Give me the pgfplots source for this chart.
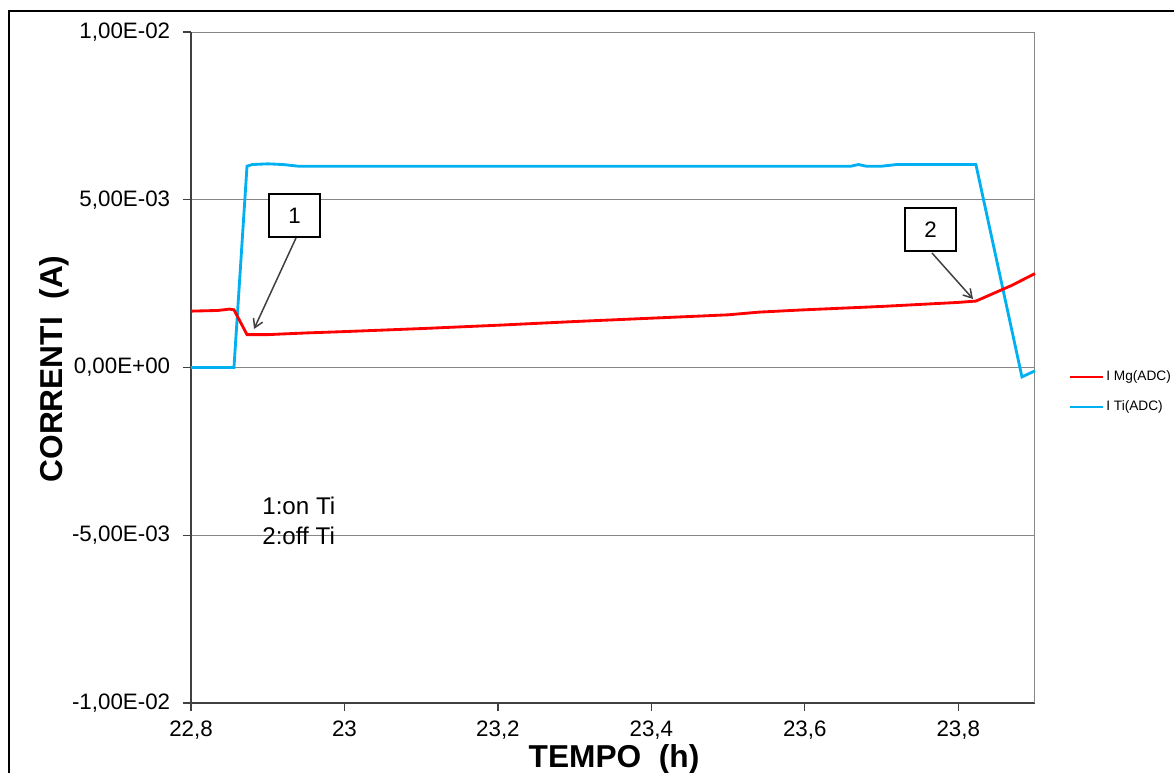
\documentclass[border=0pt]{standalone}
\usepackage{fontspec}
\setmainfont{Liberation Sans}
\usepackage{pgfplots}
\pgfplotsset{compat=1.18}
\usetikzlibrary{arrows.meta}
\definecolor{tiblue}{HTML}{00B0F0}
\definecolor{gridgray}{HTML}{868686}
\definecolor{axdark}{HTML}{404040}
\begin{document}
\begin{tikzpicture}[x=0.6pt,y=0.6pt]
\useasboundingbox (0,0) rectangle (1174,773);
\draw[line width=1.5pt,black] (9,-20) -- (9,762) -- (1200,762);
\begin{axis}[
  at={(114.6pt,42pt)}, anchor=south west,
  scale only axis, width=506.4pt, height=402.6pt,
  xmin=22.8, xmax=23.9, ymin=-0.01, ymax=0.01,
  scaled ticks=false,
  axis x line*=bottom, axis y line*=left,
  axis line style={axdark, line width=0.9pt},
  xtick={22.8,23,23.2,23.4,23.6,23.8},
  xticklabels={{22,8},{23},{23,2},{23,4},{23,6},{23,8}},
  ytick={-0.01,-0.005,0,0.005,0.01},
  yticklabels={{-1,00E-02},{-5,00E-03},{0,00E+00},{5,00E-03},{1,00E-02}},
  tick align=outside, major tick length=5pt,
  tick style={axdark, line width=0.8pt},
  ymajorgrids, grid style={gridgray, line width=0.6pt},
  ticklabel style={font=\fontsize{13.4}{16}\selectfont, text=black},
  xticklabel style={yshift=-2pt},
  yticklabel style={xshift=-4pt},
  clip=false,
]
\draw[gridgray, line width=0.6pt] (rel axis cs:1,0) -- (rel axis cs:1,1);
\addplot[tiblue, line width=1.7pt] coordinates {
(22.80,0) (22.856,0) (22.873,0.00600) (22.88,0.00605) (22.90,0.00607)
(22.92,0.00605) (22.94,0.00600) (23.10,0.00600) (23.30,0.00600)
(23.50,0.00600) (23.66,0.00600) (23.67,0.00605) (23.68,0.00600)
(23.70,0.00600) (23.72,0.00605) (23.823,0.00605) (23.883,-0.00028)
(23.90,-0.00010)
};
\addplot[red, line width=1.7pt] coordinates {
(22.80,0.00168) (22.835,0.00170) (22.85,0.00174) (22.856,0.00172)
(22.873,0.00098) (22.90,0.00098) (22.95,0.00103) (23.00,0.00107)
(23.10,0.00116) (23.20,0.00126) (23.30,0.00137) (23.40,0.00147)
(23.50,0.00157) (23.54,0.00165) (23.60,0.00172) (23.70,0.00182)
(23.80,0.00194) (23.823,0.00198) (23.87,0.00245) (23.90,0.00280)
};
\end{axis}
% annotations
\draw[black, line width=0.8pt, fill=white] (269,773-194) rectangle (320,773-237);
\node[font=\fontsize{13.4}{16}\selectfont] at (294.5,773-216) {1};
\draw[axdark, line width=0.9pt, -{Straight Barb[length=5pt,width=6pt]}] (296,773-238) -- (254,773-329);
\draw[black, line width=0.8pt, fill=white] (905,773-208) rectangle (956,773-251);
\node[font=\fontsize{13.4}{16}\selectfont] at (930.5,773-230) {2};
\draw[axdark, line width=0.9pt, -{Straight Barb[length=5pt,width=6pt]}] (932,773-253) -- (973,773-299);
\node[font=\fontsize{14.5}{17}\selectfont, anchor=base west, inner sep=0pt] at (262,773-515) {1:on Ti};
\node[font=\fontsize{14.5}{17}\selectfont, anchor=base west, inner sep=0pt] at (262,773-545) {2:off Ti};
% legend
\draw[red, line width=1.7pt] (1070,773-377) -- (1103,773-377);
\node[font=\fontsize{8.2}{10}\selectfont, anchor=west, inner sep=0pt] at (1106,773-377) {I Mg(ADC)};
\draw[tiblue, line width=1.7pt] (1070,773-407) -- (1103,773-407);
\node[font=\fontsize{8.2}{10}\selectfont, anchor=west, inner sep=0pt] at (1106,773-407) {I Ti(ADC)};
% axis labels
\node[font=\bfseries\fontsize{19}{22}\selectfont, anchor=base, inner sep=0pt] at (614,5) {TEMPO\ \ (h)};
\node[font=\bfseries\fontsize{19}{22}\selectfont, anchor=base, rotate=90, inner sep=0pt] at (62,773-369) {CORRENTI\ \ (A)};
\end{tikzpicture}
\end{document}
